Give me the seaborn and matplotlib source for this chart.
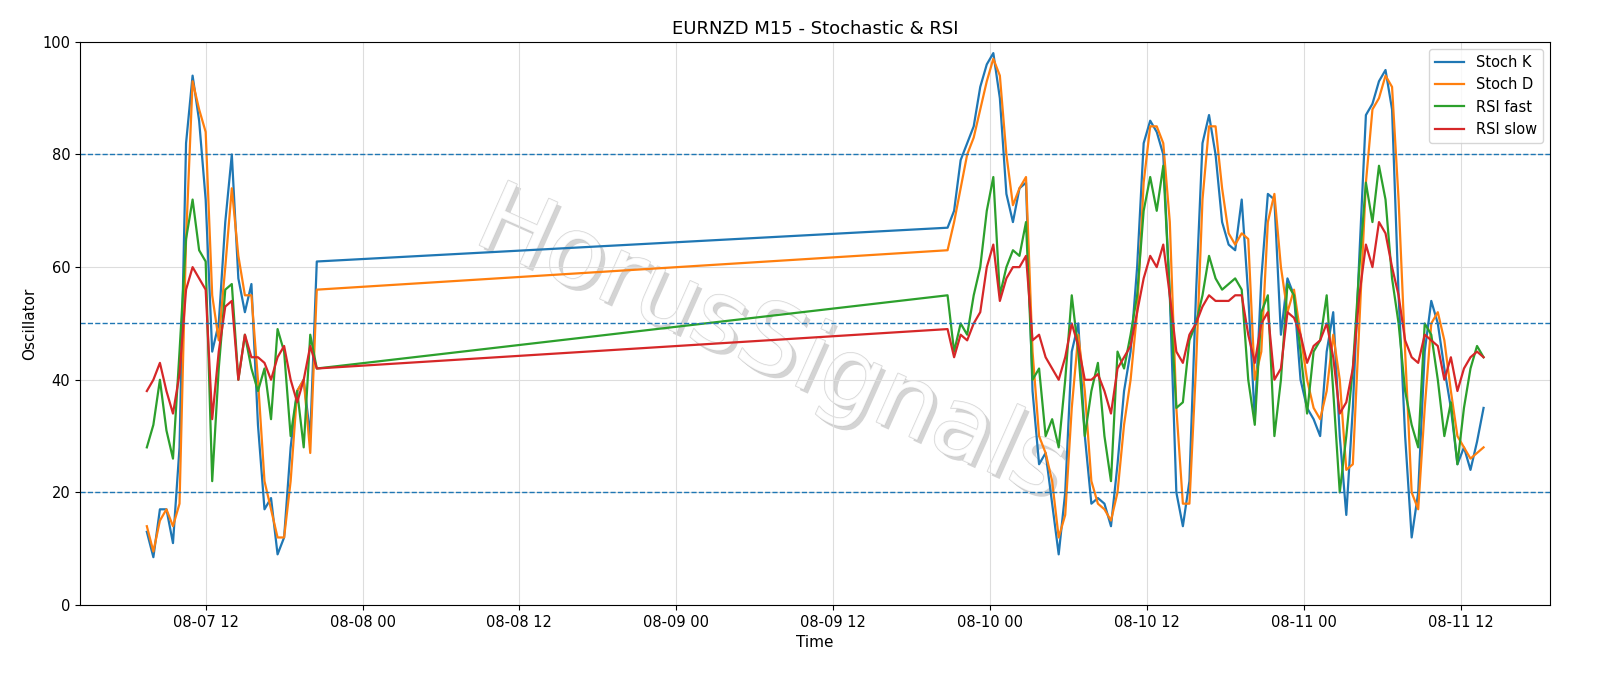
import pandas as pd
import numpy as np
import matplotlib
matplotlib.use("Agg")
import matplotlib.pyplot as plt
import matplotlib.dates as mdates
import matplotlib.patheffects as pe
import seaborn as sns

# session 1: 08-07 07:30 .. 20:30, session 2: 08-09 20:45 .. 08-11 13:45 (30 min bars)
start1 = "2025-08-07 07:30"
start2 = "2025-08-09 20:45"

stoch_k1 = [13, 8.5, 17, 17, 11, 28, 82, 94, 86, 72, 45, 50, 68, 80, 58, 52, 57, 32, 17, 19,
            9, 12, 28, 38, 40, 30, 61]
stoch_d1 = [14, 9.5, 15, 17, 14, 18, 65, 93, 88, 84, 55, 47, 60, 74, 62, 55, 55, 40, 22, 17,
            12, 12, 22, 38, 40, 27, 56]
rsi_fast1 = [28, 32, 40, 31, 26, 45, 65, 72, 63, 61, 22, 42, 56, 57, 40, 48, 42, 38, 42, 33,
             49, 45, 30, 38, 28, 48, 42]
rsi_slow1 = [38, 40, 43, 38, 34, 41, 56, 60, 58, 56, 33, 45, 53, 54, 40, 48, 44, 44, 43, 40,
             44, 46, 40, 36, 40, 46, 42]

stoch_k2 = [67, 70, 79, 82, 85, 92, 96, 98, 90, 73, 68, 74, 75, 38, 25, 27, 18, 9, 20, 45,
            50, 30, 18, 19, 18, 14, 25, 38, 45, 60, 82, 86, 84, 80, 55, 20, 14, 22, 55, 82,
            87, 80, 68, 64, 63, 72, 55, 33, 58, 73, 72, 48, 58, 55, 40, 35, 33, 30, 45, 52,
            30, 16, 35, 62, 87, 89, 93, 95, 88, 55, 30, 12, 20, 45, 54, 50, 42, 35, 25, 28,
            24, 29, 35]
stoch_d2 = [63, 68, 74, 80, 83, 88, 93, 97, 94, 80, 71, 74, 76, 45, 30, 27, 22, 12, 16, 35,
            48, 38, 22, 18, 17, 15, 20, 32, 40, 52, 75, 85, 85, 82, 68, 35, 18, 18, 42, 72,
            85, 85, 74, 66, 64, 66, 65, 40, 45, 68, 73, 60, 52, 56, 48, 40, 35, 33, 38, 48,
            40, 24, 25, 50, 75, 88, 90, 94, 92, 72, 45, 20, 17, 35, 50, 52, 47, 38, 30, 28,
            26, 27, 28]
rsi_fast2 = [55, 45, 50, 48, 55, 60, 70, 76, 55, 60, 63, 62, 68, 40, 42, 30, 33, 28, 40, 55,
             45, 30, 38, 43, 30, 22, 45, 42, 48, 55, 70, 76, 70, 78, 55, 35, 36, 47, 50, 55,
             62, 58, 56, 57, 58, 56, 40, 32, 52, 55, 30, 40, 57, 55, 45, 34, 45, 47, 55, 38,
             20, 30, 42, 60, 75, 68, 78, 72, 58, 50, 38, 32, 28, 50, 48, 40, 30, 36, 25, 35,
             42, 46, 44]
rsi_slow2 = [49, 44, 48, 47, 50, 52, 60, 64, 54, 58, 60, 60, 62, 47, 48, 44, 42, 40, 44, 50,
             46, 40, 40, 41, 38, 34, 42, 44, 46, 52, 58, 62, 60, 64, 55, 45, 43, 48, 50, 53,
             55, 54, 54, 54, 55, 55, 48, 43, 50, 52, 40, 42, 52, 51, 48, 43, 46, 47, 50, 44,
             34, 36, 42, 55, 64, 60, 68, 66, 60, 55, 47, 44, 43, 48, 47, 46, 40, 44, 38, 42,
             44, 45, 44]

t1 = pd.date_range(start1, periods=len(stoch_k1), freq="30min")
t2 = pd.date_range(start2, periods=len(stoch_k2), freq="30min")
df = pd.DataFrame({
    "Time": t1.append(t2),
    "Stoch K": stoch_k1 + stoch_k2,
    "Stoch D": stoch_d1 + stoch_d2,
    "RSI fast": rsi_fast1 + rsi_fast2,
    "RSI slow": rsi_slow1 + rsi_slow2,
})

fig, ax = plt.subplots(figsize=(16, 6.86), dpi=100)
fig.subplots_adjust(left=0.05, right=0.969, top=0.939, bottom=0.118)

for col, c in zip(["Stoch K", "Stoch D", "RSI fast", "RSI slow"], ["C0", "C1", "C2", "C3"]):
    sns.lineplot(data=df, x="Time", y=col, ax=ax, color=c, lw=1.6, label=col)

for lvl in [20, 50, 80]:
    ax.axhline(lvl, color="C0", ls="--", lw=1)

ax.set_ylim(0, 100)
ax.grid(True, color="#dddddd", lw=0.8)
ax.set_axisbelow(True)
ax.xaxis.set_major_locator(mdates.HourLocator(byhour=[0, 12]))
ax.xaxis.set_major_formatter(mdates.DateFormatter("%m-%d %H"))
ax.set_title("EURNZD M15 - Stochastic & RSI", fontsize=13)
ax.set_xlabel("Time", fontsize=11)
ax.set_ylabel("Oscillator", fontsize=11)
ax.tick_params(labelsize=10.5)
ax.legend(loc="upper right", fontsize=10.5)

ax.text(0.47, 0.46, "HorusSignals", transform=ax.transAxes, fontsize=70, color="white",
        alpha=0.75, rotation=-24, ha="center", va="center", zorder=0.5,
        path_effects=[pe.withSimplePatchShadow(offset=(3, -3), shadow_rgbFace="#aaaaaa", alpha=0.5),
                      pe.Stroke(linewidth=1.0, foreground="#c8c8c8"), pe.Normal()])

fig.savefig("out.png", dpi=100)
